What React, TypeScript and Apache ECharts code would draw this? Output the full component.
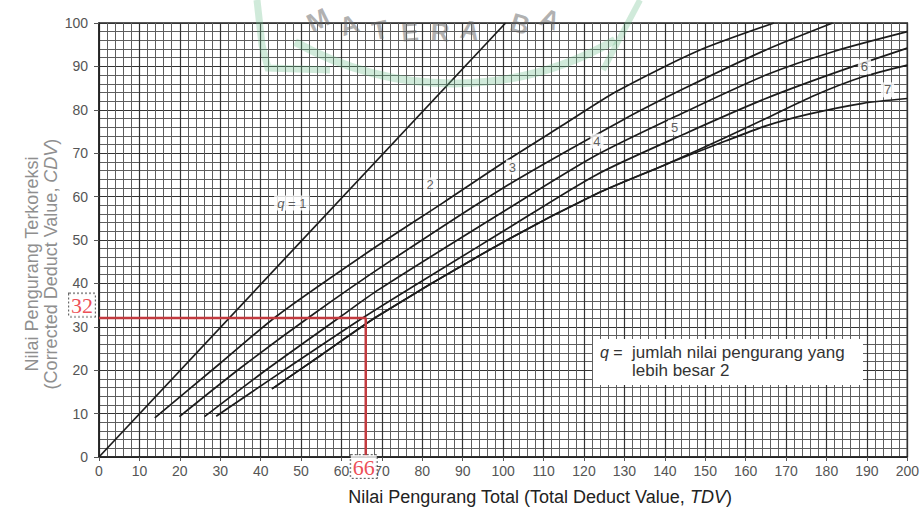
import React, { useEffect, useRef } from "react";
import * as echarts from "echarts";

// Curves: [TDV, CDV]
const q1Curve = [[0, 0], [100.6, 100]];
const q2Curve = [[13.8, 9], [30, 21.6], [44, 32.5], [67.5, 47.8], [85, 58.5], [100, 67.8], [115, 76.6], [128, 84.2], [148, 93.5], [167, 100]];
const q3Curve = [[19.9, 9.3], [35, 20.5], [52.4, 32.5], [71, 44.5], [100, 62], [129.5, 77.6], [145, 85], [165, 93.8], [181.5, 100]];
const q4Curve = [[26.1, 9.3], [42, 20.5], [60, 32.5], [69.1, 38.5], [100, 56.5], [123, 69.5], [145, 79.5], [165, 88], [182, 93.5], [200, 98]];
const q5Curve = [[29, 9.4], [45, 19.5], [66, 32.5], [100, 52], [123, 65], [145, 74.5], [165, 82.6], [182, 88.5], [200, 94.2]];
const q6Curve = [[42.8, 15.7], [55, 23.5], [69, 32.5], [100, 49.5], [123, 60.6], [140, 67.3], [155, 73.6], [165, 78], [177, 83.3], [189, 87.6], [200, 90.3]];
const q7Curve = [[42.8, 15.7], [55, 23.5], [69, 32.5], [100, 49.5], [123, 60.6], [140, 67.3], [155, 72.8], [165, 76.3], [175.6, 79], [189, 81.5], [200, 82.6]];

const curves = [q1Curve, q2Curve, q3Curve, q4Curve, q5Curve, q6Curve, q7Curve];

// Curve labels (q value, anchored in data coordinates)
const curveLabelText = ["{i|q} = 1", "2", "3", "4", "5", "6", "7"];
const curveLabelAt = [[47.7, 58.5], [81.9, 62.7], [102.3, 66.8], [123.2, 72.8], [142.4, 76], [189.4, 89.9], [195.1, 84.6]];

// Worked example
const exampleTDV = 66;
const exampleCDV = 32;

export default function App() {
  const ref = useRef<HTMLDivElement>(null);
  useEffect(() => {
    if (!ref.current) return;
    const chart = echarts.init(ref.current, null, { renderer: "svg" });
    const font = "'Liberation Sans', Arial, sans-serif";
    const series: any[] = curves.map((c, i) => ({
      type: "line",
      data: c,
      showSymbol: false,
      smooth: i === 0 ? false : 0.25,
      lineStyle: { color: "#1c1c1c", width: 1.7 },
      z: 3,
      silent: true,
    }));
    series.push({
      type: "scatter",
      symbolSize: 0,
      z: 6,
      data: curveLabelAt.map((p, i) => ({ value: p, name: curveLabelText[i] })),
      label: {
        show: true,
        position: "inside",
        formatter: "{b}",
        color: "#333",
        fontFamily: font,
        fontSize: 13,
        backgroundColor: "#ffffff",
        padding: [1, 3],
        rich: { i: { fontStyle: "italic", fontFamily: font, fontSize: 13, color: "#333" } },
      },
    });
    series.push({
      type: "line",
      data: [[0, exampleCDV], [exampleTDV, exampleCDV], [exampleTDV, 0]],
      showSymbol: false,
      lineStyle: { color: "#c23a3f", width: 2.5 },
      z: 7,
      silent: true,
    });
    const redLabel = {
      show: true,
      color: "#e8202a",
      fontFamily: "'Liberation Serif', 'Times New Roman', serif",
      fontSize: 22,
      backgroundColor: "#ffffff",
      borderColor: "#444",
      borderWidth: 1,
      borderType: "dotted",
      padding: [1, 2, 0, 2],
      formatter: "{b}",
    };
    series.push({
      type: "scatter",
      symbolSize: 0,
      z: 8,
      data: [
        { value: [0, exampleCDV], name: String(exampleCDV), label: { ...redLabel, position: "left", distance: 4, offset: [0, -13] } },
        { value: [exampleTDV, 0], name: String(exampleTDV), label: { ...redLabel, position: "bottom", distance: -2, offset: [-2, 0] } },
      ],
    });

    const wmText = "rgba(100,100,100,0.5)";
    const letters = [
      ["M", 318, 20, 0.45],
      ["A", 349, 25, 0.32],
      ["T", 380, 30, 0.2],
      ["E", 410, 32, 0.08],
      ["R", 440, 32, -0.05],
      ["A", 470, 30, -0.15],
      ["B", 520, 24, -0.3],
      ["A", 550, 19, -0.4],
    ];
    const green = "rgba(110,190,140,0.32)";

    chart.setOption({
      animation: false,
      backgroundColor: "#ffffff",
      grid: { left: 99, right: 10, top: 23, bottom: 57, show: true, borderColor: "#222", borderWidth: 1.5, backgroundColor: "#ffffff" },
      xAxis: {
        type: "value",
        min: 0,
        max: 200,
        interval: 10,
        axisLine: { show: true, lineStyle: { color: "#222", width: 1.5 } },
        axisTick: { show: true, length: 4, lineStyle: { color: "#555" } },
        axisLabel: { color: "#555", fontSize: 14, fontFamily: font, margin: 7 },
        splitLine: { show: true, lineStyle: { color: "#333", width: 1.2 } },
        minorTick: { show: false, splitNumber: 5 },
        minorSplitLine: { show: true, lineStyle: { color: "#5e5e5e", width: 1 } },
      },
      yAxis: {
        type: "value",
        min: 0,
        max: 100,
        interval: 10,
        axisLine: { show: true, lineStyle: { color: "#222", width: 1.5 } },
        axisTick: { show: true, length: 5, lineStyle: { color: "#555" } },
        axisLabel: { color: "#555", fontSize: 14, fontFamily: font, margin: 11 },
        splitLine: { show: true, lineStyle: { color: "#333", width: 1.2 } },
        minorTick: { show: false, splitNumber: 5 },
        minorSplitLine: { show: true, lineStyle: { color: "#5e5e5e", width: 1 } },
      },
      series,
      graphic: [
        // watermark
        { type: "polyline", shape: { points: [[257, 0], [262, 45], [268, 68], [330, 70]] }, style: { stroke: green, lineWidth: 7, fill: "none" }, z: 20, silent: true },
        { type: "bezierCurve", shape: { x1: 295, y1: 42, cpx1: 400, cpy1: 100, cpx2: 520, cpy2: 95, x2: 615, y2: 40 }, style: { stroke: green, lineWidth: 8, fill: "none" }, z: 20, silent: true },
        { type: "line", shape: { x1: 640, y1: 0, x2: 603, y2: 70 }, style: { stroke: green, lineWidth: 6 }, z: 20, silent: true },
        ...letters.map((l) => ({
          type: "text",
          x: l[1] as number,
          y: l[2] as number,
          rotation: l[3] as number,
          silent: true,
          z: 20,
          style: { text: l[0] as string, fill: wmText, font: "bold 26px 'Liberation Sans', Arial, sans-serif", textAlign: "center", textVerticalAlign: "middle" },
        })),
        // note box
        { type: "rect", z: 30, shape: { x: 593, y: 339, width: 270, height: 46 }, style: { fill: "#ffffff" } },
        { type: "text", z: 31, x: 600, y: 352, style: { text: "{i|q} =", fill: "#333", font: `16px ${font}`, textVerticalAlign: "middle", rich: { i: { fontStyle: "italic", fontSize: 16, fontFamily: font, fill: "#333" } } } },
        { type: "text", z: 31, x: 632, y: 352, style: { text: "jumlah nilai pengurang yang", fill: "#333", font: `17px ${font}`, textVerticalAlign: "middle" } },
        { type: "text", z: 31, x: 632, y: 370, style: { text: "lebih besar 2", fill: "#333", font: `17px ${font}`, textVerticalAlign: "middle" } },
        // axis titles
        {
          type: "text",
          x: 540,
          y: 497,
          z: 30,
          style: {
            text: "Nilai Pengurang Total (Total Deduct Value, {i|TDV})",
            fill: "#222",
            font: `18px ${font}`,
            textAlign: "center",
            textVerticalAlign: "middle",
            rich: { i: { fontStyle: "italic", fontSize: 18, fontFamily: font, fill: "#222" } },
          },
        },
        {
          type: "text",
          x: 41,
          y: 264,
          rotation: Math.PI / 2,
          z: 30,
          style: {
            text: "Nilai Pengurang Terkoreksi\n(Corrected Deduct Value, {i|CDV})",
            fill: "#8f8f8f",
            font: `18px ${font}`,
            lineHeight: 19,
            textAlign: "center",
            textVerticalAlign: "middle",
            rich: { i: { fontStyle: "italic", fontSize: 18, fontFamily: font, fill: "#8f8f8f", lineHeight: 19 } },
          },
        },
      ],
    });
    return () => chart.dispose();
  }, []);
  return <div ref={ref} style={{ position: "fixed", left: 0, top: 0, width: 922, height: 514 }} />;
}
